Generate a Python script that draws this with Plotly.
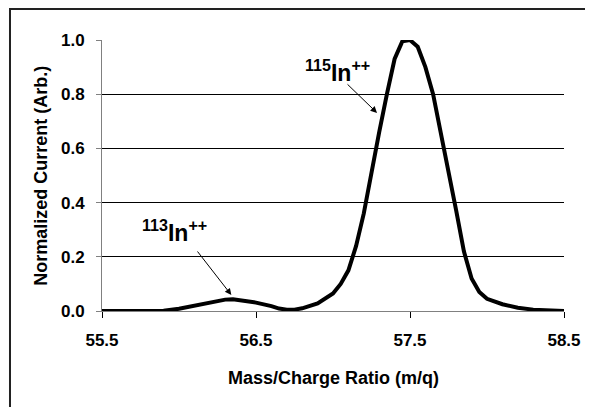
import plotly.graph_objects as go

mass_charge = [55.5, 55.6, 55.7, 55.8, 55.9, 56.0, 56.1, 56.2, 56.3, 56.35, 56.4, 56.5,
               56.6, 56.65, 56.7, 56.75, 56.8, 56.9, 57.0, 57.05, 57.1, 57.15, 57.2,
               57.25, 57.3, 57.35, 57.4, 57.45, 57.5, 57.55, 57.6, 57.65, 57.7, 57.75,
               57.8, 57.85, 57.9, 57.95, 58.0, 58.1, 58.2, 58.3, 58.4, 58.5]
current = [0.0, 0.0, 0.0, 0.0, 0.001, 0.008, 0.02, 0.033, 0.042, 0.043, 0.04, 0.031,
           0.018, 0.009, 0.005, 0.005, 0.01, 0.028, 0.065, 0.1, 0.15, 0.24, 0.36,
           0.52, 0.66, 0.8, 0.93, 0.995, 1.0, 0.975, 0.9, 0.8, 0.66, 0.51,
           0.37, 0.22, 0.12, 0.07, 0.045, 0.025, 0.012, 0.005, 0.001, 0.0]

x_ticks = [55.5, 56.5, 57.5, 58.5]
y_ticks = [0.0, 0.2, 0.4, 0.6, 0.8, 1.0]

FONT = "Liberation Sans, Arial, sans-serif"
OFF = 8  # page body margin
W, H = 593 - OFF, 407 - OFF
# plot area in page pixels: x 102..569, y 40..311
L, T = 102 - OFF, 40 - OFF
R = W - (569 - OFF)
B = H - (311 - OFF)
pw, ph = W - L - R, H - T - B

def px_x(p):
    return (p - OFF - L) / pw

def px_y(p):
    return (311 - p) / ph

fig = go.Figure()
fig.add_trace(go.Scatter(x=mass_charge, y=current, mode="lines",
                         line=dict(color="black", width=4), showlegend=False,
                         hoverinfo="skip"))

axis_font = dict(family=FONT, size=17, color="black", weight="bold")

fig.update_layout(
    width=W, height=H,
    margin=dict(l=L, r=R, t=T, b=B, pad=0),
    paper_bgcolor="white", plot_bgcolor="white",
    xaxis=dict(range=[55.5, 58.5], tickvals=x_ticks, ticktext=[f"{v:.1f}" for v in x_ticks],
               showgrid=False, zeroline=False, showline=True, linecolor="#808080",
               linewidth=1, ticks="outside", ticklen=6, tickcolor="black", tickwidth=1,
               tickfont=axis_font, ticklabelstandoff=8),
    yaxis=dict(range=[0, 1.0], tickvals=y_ticks, ticktext=[f"{v:.1f}" for v in y_ticks],
               showgrid=True, gridcolor="black", gridwidth=1, zeroline=False,
               showline=True, linecolor="#808080", linewidth=1, ticks="outside",
               ticklen=5, tickcolor="#808080", tickwidth=1, tickfont=axis_font,
               ticklabelstandoff=8),
    shapes=[dict(type="rect", xref="paper", yref="paper",
                 x0=px_x(9), x1=px_x(640), y0=px_y(460), y1=px_y(9),
                 line=dict(color="#222222", width=2), fillcolor="rgba(0,0,0,0)",
                 layer="above")],
)

title_font = dict(family=FONT, size=18, color="black", weight="bold")
label_font = dict(family=FONT, size=23, color="black", weight="bold")

fig.add_annotation(xref="paper", yref="paper", x=px_x(336), y=px_y(378),
                   text="Mass/Charge Ratio (m/q)", showarrow=False, font=title_font,
                   xanchor="center", yanchor="middle")
fig.add_annotation(xref="paper", yref="paper", x=px_x(40), y=px_y(176),
                   text="Normalized Current (Arb.)", showarrow=False, font=title_font,
                   textangle=-90, xanchor="center", yanchor="middle")

# peak labels
fig.add_annotation(x=57.03, y=0.885, text="<sup>115</sup>In<sup>++</sup>", showarrow=False,
                   font=label_font, xanchor="center", yanchor="middle")
fig.add_annotation(x=55.97, y=0.295, text="<sup>113</sup>In<sup>++</sup>", showarrow=False,
                   font=label_font, xanchor="center", yanchor="middle")

# arrows
fig.add_annotation(x=57.286, y=0.731, ax=-31, ay=-30, axref="pixel", ayref="pixel",
                   text="", showarrow=True, arrowhead=2, arrowsize=1.3, arrowwidth=1,
                   arrowcolor="black", standoff=0, startstandoff=0)
fig.add_annotation(x=56.34, y=0.059, ax=-35, ay=-45, axref="pixel", ayref="pixel",
                   text="", showarrow=True, arrowhead=2, arrowsize=1.3, arrowwidth=1,
                   arrowcolor="black", standoff=0, startstandoff=0)

fig.write_html("out.html")
